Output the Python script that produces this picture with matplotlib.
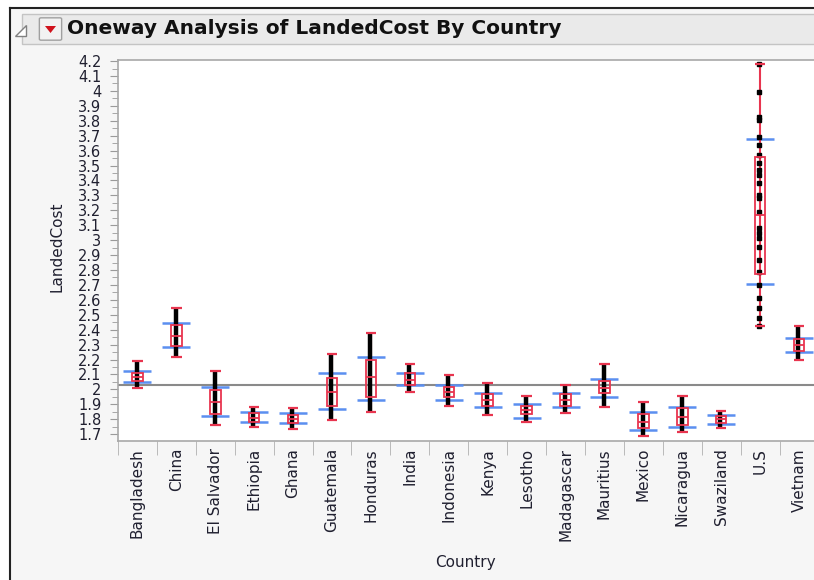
import numpy as np
import matplotlib
matplotlib.use("Agg")
import matplotlib.pyplot as plt
from matplotlib.patches import Rectangle, Polygon, FancyBboxPatch
from matplotlib.lines import Line2D

# values
countries = ["Bangladesh", "China", "El Salvador", "Ethiopia", "Ghana", "Guatemala",
             "Honduras", "India", "Indonesia", "Kenya", "Lesotho", "Madagascar",
             "Mauritius", "Mexico", "Nicaragua", "Swaziland", "U.S", "Vietnam"]
whisk_lo = [2.006, 2.218, 1.760, 1.749, 1.732, 1.794, 1.847, 1.984, 1.888,
            1.829, 1.778, 1.839, 1.883, 1.687, 1.716, 1.738, 2.426, 2.196]
q1 = [2.057, 2.290, 1.834, 1.779, 1.776, 1.888, 1.950, 2.028, 1.946,
      1.890, 1.834, 1.888, 1.973, 1.738, 1.760, 1.774, 2.771, 2.256]
median = [2.080, 2.359, 1.917, 1.809, 1.800, 1.984, 2.080, 2.066, 1.980,
          1.928, 1.861, 1.928, 2.011, 1.783, 1.812, 1.801, 3.166, 2.299]
q3 = [2.113, 2.431, 1.995, 1.839, 1.829, 2.078, 2.196, 2.109, 2.015,
      1.966, 1.890, 1.968, 2.057, 1.834, 1.872, 1.823, 3.557, 2.335]
whisk_hi = [2.189, 2.542, 2.124, 1.879, 1.877, 2.234, 2.379, 2.169, 2.093,
            2.040, 1.957, 2.026, 2.167, 1.913, 1.957, 1.857, 4.178, 2.426]
sd_lo = [2.047, 2.281, 1.823, 1.781, 1.776, 1.866, 1.928, 2.026, 1.928,
         1.881, 1.809, 1.883, 1.950, 1.727, 1.749, 1.765, 2.705, 2.248]
sd_hi = [2.122, 2.442, 2.015, 1.846, 1.841, 2.111, 2.216, 2.111, 2.026,
         1.973, 1.899, 1.973, 2.069, 1.847, 1.883, 1.829, 3.675, 2.341]
# U.S has few enough points to see them one by one
us_points = [4.178, 3.994, 3.827, 3.805, 3.693, 3.637, 3.570, 3.514, 3.469,
             3.436, 3.384, 3.302, 3.279, 3.190, 3.079, 3.045, 3.012, 2.956,
             2.866, 2.788, 2.699, 2.610, 2.543, 2.475, 2.426]
grand_mean = 2.03

W, H = 814, 580
def fx(x):
    return x / W
def fy(y):
    return 1 - y / H

red = "#e8354f"
blue = "#5b8ff0"
txt = "#202030"

fig = plt.figure(figsize=(8.14, 5.8), dpi=100)
fig.patch.set_facecolor("white")

# window panel, border and title bar
fig.add_artist(Rectangle((fx(10), 0), 1, fy(8), transform=fig.transFigure,
                         facecolor="#f6f6f6", edgecolor="none", zorder=-10))
fig.add_artist(Line2D([fx(10), fx(10)], [0, fy(8)], color="#222222", lw=1.5))
fig.add_artist(Line2D([fx(10), 1], [fy(8), fy(8)], color="#222222", lw=1.5))
fig.add_artist(Rectangle((fx(22), fy(44)), 1, fy(14) - fy(44), transform=fig.transFigure,
                         facecolor="#eaeaea", edgecolor="#c4c4c4", lw=1))
fig.add_artist(Polygon([(fx(15), fy(36)), (fx(26), fy(36)), (fx(26), fy(25))],
                       closed=True, transform=fig.transFigure,
                       facecolor="white", edgecolor="#808080", lw=1))
fig.add_artist(FancyBboxPatch((fx(41), fy(39)), fx(19), fy(19) - fy(39),
                              boxstyle="round,pad=0.002", transform=fig.transFigure,
                              facecolor="#f2f2f2", edgecolor="#a0a0a0", lw=1))
fig.add_artist(Polygon([(fx(45), fy(26)), (fx(56), fy(26)), (fx(50.5), fy(33))],
                       closed=True, transform=fig.transFigure,
                       facecolor="#d0121c", edgecolor="none"))
fig.text(fx(67), fy(29), "Oneway Analysis of LandedCost By Country",
         fontsize=14.5, fontweight="bold", color="#111111", va="center", ha="left")

ax = fig.add_axes([fx(118), fy(441), fx(700.5), fy(60) - fy(441)])
ax.set_facecolor("white")

x = np.arange(len(countries))
bw = 0.27   # box / cap width
sw = 0.72   # std dev line width

ax.axhline(grand_mean, color="#8a8a8a", lw=1.5, zorder=1)
ax.hlines(sd_lo, x - sw / 2, x + sw / 2, color=blue, lw=1.8, zorder=2)
ax.hlines(sd_hi, x - sw / 2, x + sw / 2, color=blue, lw=1.8, zorder=2)
ax.vlines(x, whisk_lo, whisk_hi, color=red, lw=1.5, zorder=2)

# points: dense groups look like a solid black bar
dense = [i for i in x if countries[i] != "U.S"]
ax.vlines(x[dense] - 0.02, np.array(whisk_lo)[dense], np.array(whisk_hi)[dense],
          color="black", lw=3.2, zorder=3)
us = countries.index("U.S")
ax.plot([us - 0.02] * len(us_points), us_points, "s", color="black", ms=2.6, zorder=3)

for i in x:
    ax.add_patch(Rectangle((i - bw / 2, q1[i]), bw, q3[i] - q1[i], fill=False,
                           edgecolor=red, lw=1.3, zorder=4))
ax.hlines(median, x - bw / 2, x + bw / 2, color=red, lw=1.3, zorder=4)
ax.hlines(whisk_lo, x - bw / 2, x + bw / 2, color=red, lw=1.6, zorder=4)
ax.hlines(whisk_hi, x - bw / 2, x + bw / 2, color=red, lw=1.6, zorder=4)

ax.set_xlim(-0.5, len(countries) - 0.5)
ax.set_ylim(1.654, 4.207)

yt = np.round(np.arange(1.7, 4.21, 0.1), 1)
ax.set_yticks(yt)
ax.set_yticklabels([f"{v:g}" for v in yt])
ax.set_yticks(np.round(np.arange(1.7, 4.21, 0.05), 2), minor=True)
ax.tick_params(axis="y", which="major", length=6, color="#9a9a9a", labelsize=10.5,
               labelcolor=txt, pad=6)
ax.tick_params(axis="y", which="minor", length=4, color="#9a9a9a")

ax.set_xticks(x)
ax.set_xticklabels(countries, rotation=90, fontsize=11, color=txt)
ax.set_xticks(np.arange(-0.5, len(countries), 1.0), minor=True)
ax.tick_params(axis="x", which="major", length=0, pad=5)
ax.tick_params(axis="x", which="minor", length=10, color="#b0b0b0")

for s in ax.spines.values():
    s.set_color("#a8a8a8")
    s.set_linewidth(1.2)

fig.text(fx(57), fy(247), "LandedCost", rotation=90, fontsize=11, color=txt,
         ha="center", va="center")
fig.text(fx(465), fy(562), "Country", fontsize=11, color=txt, ha="center", va="center")

fig.savefig("out.png", dpi=100)
